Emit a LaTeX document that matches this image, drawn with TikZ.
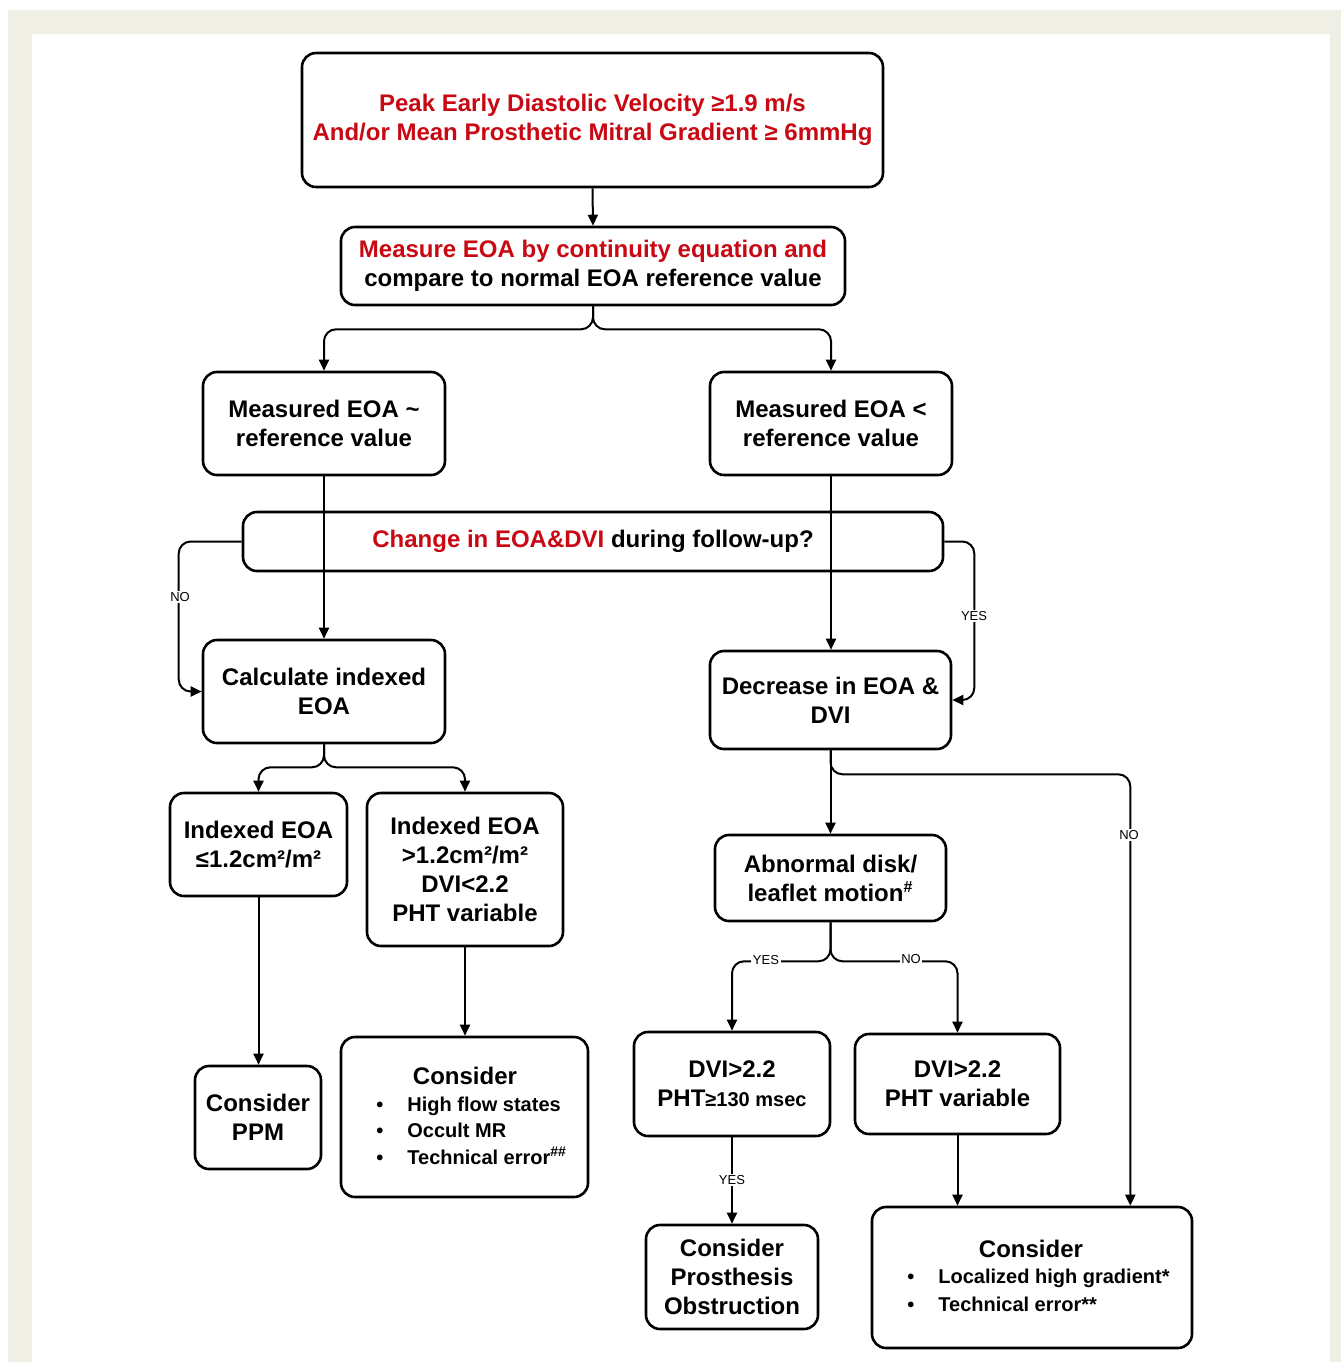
\documentclass[tikz,border=0pt]{standalone}
\usepackage{fontspec}
\setmainfont{Liberation Sans}
\usetikzlibrary{arrows.meta,calc}
\definecolor{tred}{RGB}{200,8,18}
\definecolor{framec}{RGB}{239,239,229}
\newcommand{\bul}{\makebox[15.5pt][l]{\textbullet}}
\begin{document}
\begin{tikzpicture}[x=0.5pt,y=-0.5pt,
  box/.style={draw, line width=1.3pt, rounded corners=7pt, fill=white, align=center,
    font=\bfseries\fontsize{12}{14.5}\selectfont, inner sep=0pt},
  conn/.style={line width=1pt, -{Triangle[length=5.5pt,width=5pt]}, rounded corners=6pt},
  lbl/.style={font=\fontsize{6.5}{6.5}\selectfont, fill=white, inner sep=0.8pt},
  txt/.style={font=\bfseries\fontsize{12}{14.5}\selectfont, inner sep=0pt},
  itm/.style={font=\bfseries\fontsize{10}{12}\selectfont, inner sep=0pt, anchor=base west}]
\useasboundingbox (0,0) rectangle (1341,1362);
\fill[white] (0,0) rectangle (1341,1362);
\fill[framec] (8,10) rectangle (1341,1362);
\fill[white] (32,34) rectangle (1330,1362);

% boxes
\node[box, minimum width=290.5pt, minimum height=67pt, text=tred] (top) at (592.5,120)
  {Peak Early Diastolic Velocity ≥1.9 m/s\\And/or Mean Prosthetic Mitral Gradient ≥ 6mmHg};
\node[box, minimum width=252pt, minimum height=39pt] (meas) at (593,266)
  {\textcolor{tred}{Measure EOA by continuity equation and}\\compare to normal EOA reference value};
\node[box, minimum width=121pt, minimum height=51.5pt] (meq) at (324,423.5)
  {Measured EOA \textasciitilde\\reference value};
\node[box, minimum width=121pt, minimum height=51.5pt] (mlt) at (831,423.5)
  {Measured EOA \textless\\reference value};
\node[box, minimum width=350pt, minimum height=29.5pt] (chg) at (593,541.5)
  {\textcolor{tred}{Change in EOA\&DVI} during follow-up?};
\node[box, minimum width=121pt, minimum height=51.5pt] (calc) at (324,691.5)
  {Calculate indexed\\EOA};
\node[box, minimum width=120.5pt, minimum height=49pt] (decr) at (830.5,700)
  {Decrease in EOA \&\\DVI};
\node[box, minimum width=88.5pt, minimum height=51.5pt] (ile) at (258.5,844.5)
  {Indexed EOA\\≤1.2cm²/m²};
\node[box, minimum width=98pt, minimum height=76.5pt] (igt) at (465,869.5)
  {Indexed EOA\\\textgreater1.2cm²/m²\\DVI\textless2.2\\PHT variable};
\node[box, minimum width=115.5pt, minimum height=43pt] (abn) at (830.5,878)
  {Abnormal disk/\\leaflet motion\textsuperscript{\#}};
\node[box, minimum width=63pt, minimum height=51.5pt] (ppm) at (258,1117.5)
  {Consider\\PPM};
\node[box, minimum width=123.5pt, minimum height=80pt] (cons1) at (464.5,1117) {};
\node[box, minimum width=98pt, minimum height=52pt] (dvi1) at (732,1084)
  {DVI\textgreater2.2\\PHT{\fontsize{10}{12}\selectfont≥130 msec}};
\node[box, minimum width=102.5pt, minimum height=50pt] (dvi2) at (957.5,1084)
  {DVI\textgreater2.2\\PHT variable};
\node[box, minimum width=86pt, minimum height=52pt] (obst) at (732,1277)
  {Consider\\Prosthesis\\Obstruction};
\node[box, minimum width=160pt, minimum height=70.5pt] (cons2) at (1032,1277.5) {};

% texts of the list boxes
\node[txt] (c1t) at (465,1076) {Consider};
\node[itm] (c1i1) at (376,1111) {\bul High flow states};
\node[itm] (c1i2) at (376,1137) {\bul Occult MR};
\node[itm] (c1i3) at (376,1164) {\bul Technical error\textsuperscript{\#\#}};
\node[txt] (c2t) at (1031,1249) {Consider};
\node[itm] (c2i1) at (907,1283) {\bul Localized high gradient*};
\node[itm] (c2i2) at (907,1311) {\bul Technical error**};

% connectors
\draw[conn] (top.south) -- (meas.north);
\draw[conn] (meas.south) -- ++(0,23) -| (meq.north);
\draw[conn] (meas.south) -- ++(0,23) -| (mlt.north);
\draw[conn] (meq.south) -- (meq.south |- calc.north);
\draw[conn] (mlt.south) -- (mlt.south |- decr.north);
\draw[conn] (chg.west) -- ++(-63,0) |- (calc.west);
\draw[conn] (chg.east) -- ++(30,0) |- (decr.east);
\draw[conn] (calc.south) -- ++(0,23) -| (ile.north);
\draw[conn] (calc.south) -- ++(0,23) -| (igt.north);
\draw[conn] (ile.south) -- (ile.south |- ppm.north);
\draw[conn] (igt.south) -- (igt.south |- cons1.north);
\draw[conn] (decr.south) -- (decr.south |- abn.north);
\draw[conn] (decr.south) -- ++(0,24) -| ([xshift=-31.5pt]cons2.north east);
\draw[conn] (abn.south) -- ++(0,39) -| (dvi1.north);
\draw[conn] (abn.south) -- ++(0,39) -| (dvi2.north);
\draw[conn] (dvi1.south) -- (dvi1.south |- obst.north);
\draw[conn] (dvi2.south) -- (dvi2.south |- cons2.north);

% labels
\node[lbl] (lno1) at (180,597) {NO};
\node[lbl] (lyes1) at (974,616) {YES};
\node[lbl] (lno2) at (1129,835) {NO};
\node[lbl] (lyes2) at (766,960) {YES};
\node[lbl] (lno3) at (911,959) {NO};
\node[lbl] (lyes3) at (732,1180) {YES};
\end{tikzpicture}
\end{document}
